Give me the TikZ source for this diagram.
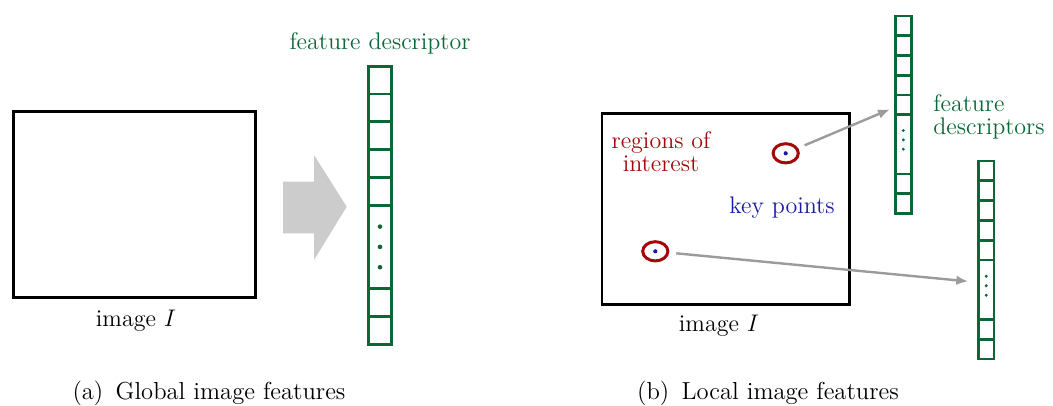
\documentclass[tikz,border=0pt]{standalone}
\usetikzlibrary{shapes.geometric,arrows.meta,calc}

\definecolor{descgreen}{RGB}{10,104,55}
\definecolor{roired}{RGB}{160,10,10}
\definecolor{kpblue}{RGB}{25,25,170}
\definecolor{linkgray}{RGB}{155,155,155}
\definecolor{bigarrow}{RGB}{204,204,204}

% A feature descriptor: ten cells, the 6th to 8th merged into one cell with dots.
% #1 name, #2 left x, #3 top y, #4 width, #5 cell height
\newcommand\descriptor[5]{%
  \foreach \k in {1,2,3,4,5,9,10}{%
    \node[cellbox, minimum width=#4*0.5pt, minimum height=#5*0.5pt]
      (#1-\k) at ({#2+#4/2},{#3+(\k-0.5)*#5}) {};
  }
  \node[cellbox, minimum width=#4*0.5pt, minimum height=3*#5*0.5pt]
    (#1-dots) at ({#2+#4/2},{#3+6.5*#5}) {};
}
% Vertical dots in the merged cell: #1 name, #2 offset of the middle dot, #3 spacing, #4 radius
\newcommand\descdots[4]{%
  \foreach \j in {-1,0,1}{%
    \fill[descgreen] ($(#1-dots.center)+(0,{#2+\j*#3})$) circle[radius=#4];
  }
}

\begin{document}
\begin{tikzpicture}[x=0.5pt,y=-0.5pt,
  lbl/.style={font=\fontsize{12}{11.5}\selectfont, inner sep=0pt, align=center},
  subcap/.style={font=\fontsize{12.3}{14}\selectfont, inner sep=0pt},
  imgbox/.style={draw=black, line width=1.45pt},
  cellbox/.style={draw=descgreen, line width=1.4pt, inner sep=0pt, outer sep=0pt, rectangle},
  roi/.style={draw=roired, ellipse, line width=1.5pt, inner sep=0pt,
              minimum width=12.6pt, minimum height=9.6pt},
  kp/.style={fill=kpblue, circle, inner sep=0pt, minimum size=2.1pt},
  link/.style={draw=linkgray, line width=1.2pt, shorten <=3.5pt,
               -{Latex[length=6pt,width=4.8pt]}},
]
\useasboundingbox (0,0) rectangle (1053,406);

% ---------- (a) global image features ----------
\node[imgbox, rectangle, inner sep=0pt, minimum width=242.4*0.5pt, minimum height=186.4*0.5pt]
  (imgA) at (134.5,204.5) {};
\node[lbl] (imgAlbl) at (136,321) {image $I$};

\fill[bigarrow] (283,181.7) -- (314,181.7) -- (314,155) -- (346.7,206.7)
  -- (314,260) -- (314,233.3) -- (283,233.3) -- cycle;

\descriptor{gd}{368.2}{66.2}{23.6}{27.8}
\descdots{gd}{0}{20.3}{1.15pt}
\node[lbl, text=descgreen] (gdlbl) at (380,43) {feature descriptor};

\node[subcap] (capA) at (209,393) {(a)\enspace Global image features};

% ---------- (b) local image features ----------
\node[imgbox, rectangle, inner sep=0pt, minimum width=247.7*0.5pt, minimum height=190.7*0.5pt]
  (imgB) at (725.8,209.3) {};
\node[lbl] (imgBlbl) at (719,326) {image $I$};

\node[lbl, text=roired] (roilbl) at (661,151.5) {regions of\\interest};
\node[lbl, text=kpblue] (kplbl) at (782,208) {key points};

\node[roi] (roiA) at (785.7,153.3) {};
\node[kp]  (kpA)  at (785.7,153.3) {};
\node[roi] (roiB) at (655.3,251.3) {};
\node[kp]  (kpB)  at (655.3,251.3) {};

\descriptor{la}{895.5}{16}{15.6}{19.75}
\descdots{la}{-4.5}{9.3}{0.8pt}
\descriptor{lb}{978.5}{161}{15.4}{19.8}
\descdots{lb}{-4}{9.5}{0.8pt}

\node[lbl, text=descgreen, anchor=west, align=left] (ldlbl) at (933,116.5) {feature\\descriptors};

\coordinate (tipA) at ($(la-5.west)+(-5.5,4.4)$);
\coordinate (tipB) at ($(lb-dots.west)+(-10.2,-8.3)$);
\draw[link] (roiA) -- (tipA);
\draw[link] (roiB) -- (tipB);

\node[subcap] (capB) at (768,393) {(b)\enspace Local image features};
\end{tikzpicture}
\end{document}
